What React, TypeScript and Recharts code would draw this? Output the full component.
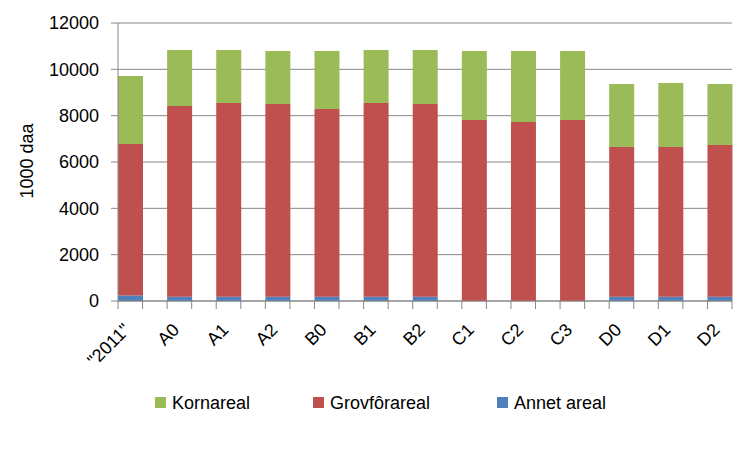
import React from 'react'
import { BarChart, Bar, XAxis, YAxis, CartesianGrid, Legend } from 'recharts'

const categories = ['"2011"', 'A0', 'A1', 'A2', 'B0', 'B1', 'B2', 'C1', 'C2', 'C3', 'D0', 'D1', 'D2']
const annetAreal = [240, 186, 186, 186, 186, 186, 186, 0, 0, 0, 186, 186, 186]
const grovforAreal = [6540, 8230, 8360, 8320, 8100, 8360, 8320, 7810, 7730, 7810, 6460, 6460, 6550]
const kornAreal = [2930, 2420, 2290, 2290, 2510, 2290, 2330, 2980, 3060, 2980, 2720, 2760, 2630]
const yTicks = [0, 2000, 4000, 6000, 8000, 10000, 12000]

const legendItems = [
    { label: 'Kornareal', color: '#9BBB59', left: 155 },
    { label: 'Grovfôrareal', color: '#C0504D', left: 313 },
    { label: 'Annet areal', color: '#4F81BD', left: 497 }
]

// Excel layout: an empty slot between every bar, no gap width
const chartData: any[] = []
categories.forEach((name, i) => {
    chartData.push({ key: name, annet: annetAreal[i], grovfor: grovforAreal[i], korn: kornAreal[i] })
    if (i < categories.length - 1) chartData.push({ key: `gap${i}` })
})

const GRID = '#868686'
const PLOT_W = 614
const SLOT = PLOT_W / chartData.length

const XTick = (props: any) => {
    const { x, y, payload, index } = props
    const half = SLOT / 2
    const showLabel = categories.includes(payload.value)
    return (
        <g>
            <line x1={x - half} x2={x - half} y1={y} y2={y + 8} stroke={GRID} />
            {index === chartData.length - 1 && (
                <line x1={x + half} x2={x + half} y1={y} y2={y + 8} stroke={GRID} />
            )}
            {showLabel && (
                <text
                    x={x + 1}
                    y={y + 30}
                    textAnchor="end"
                    fontSize={18}
                    fill="#000"
                    transform={`rotate(-45 ${x + 1} ${y + 30})`}
                >
                    {payload.value}
                </text>
            )}
        </g>
    )
}

const YLabel = () => (
    <text x={33} y={161} textAnchor="middle" fontSize={18} fill="#000" transform="rotate(-90 33 161)">
        1000 daa
    </text>
)

const LegendBox = () => (
    <div style={{ position: 'relative', width: 749, height: 69 }}>
        {legendItems.map((item) => (
            <div key={item.label}>
                <div
                    style={{
                        position: 'absolute',
                        left: item.left,
                        top: 16,
                        width: 11,
                        height: 11,
                        background: item.color
                    }}
                />
                <span
                    style={{
                        position: 'absolute',
                        left: item.left + 17,
                        top: 13,
                        fontSize: 18,
                        lineHeight: '18px',
                        color: '#000',
                        whiteSpace: 'nowrap'
                    }}
                >
                    {item.label}
                </span>
            </div>
        ))}
    </div>
)

export default function App() {
    return (
        <div
            style={{
                position: 'absolute',
                left: 0,
                top: 0,
                width: 749,
                height: 450,
                background: '#fff',
                fontFamily: "'Liberation Sans', Arial, sans-serif"
            }}
        >
            <BarChart
                width={749}
                height={450}
                data={chartData}
                margin={{ top: 23, right: 17, left: 0, bottom: 0 }}
                barCategoryGap={0}
                barGap={0}
            >
                <CartesianGrid vertical={false} stroke={GRID} />
                <XAxis
                    dataKey="key"
                    interval={0}
                    height={80}
                    tickSize={0}
                    tickMargin={0}
                    tickLine={false}
                    axisLine={{ stroke: GRID }}
                    tick={<XTick />}
                />
                <YAxis
                    width={118}
                    domain={[0, 12000]}
                    ticks={yTicks}
                    interval={0}
                    tickSize={7}
                    tickMargin={12}
                    tickLine={{ stroke: GRID }}
                    axisLine={{ stroke: GRID }}
                    tick={{ fill: '#000', fontSize: 18 }}
                    label={YLabel}
                />
                <Legend
                    verticalAlign="bottom"
                    height={69}
                    wrapperStyle={{ left: 0, bottom: 0, width: 749, height: 69 }}
                    content={LegendBox}
                />
                <Bar dataKey="annet" stackId="s" fill="#4F81BD" isAnimationActive={false} />
                <Bar dataKey="grovfor" stackId="s" fill="#C0504D" isAnimationActive={false} />
                <Bar dataKey="korn" stackId="s" fill="#9BBB59" isAnimationActive={false} />
            </BarChart>
        </div>
    )
}
